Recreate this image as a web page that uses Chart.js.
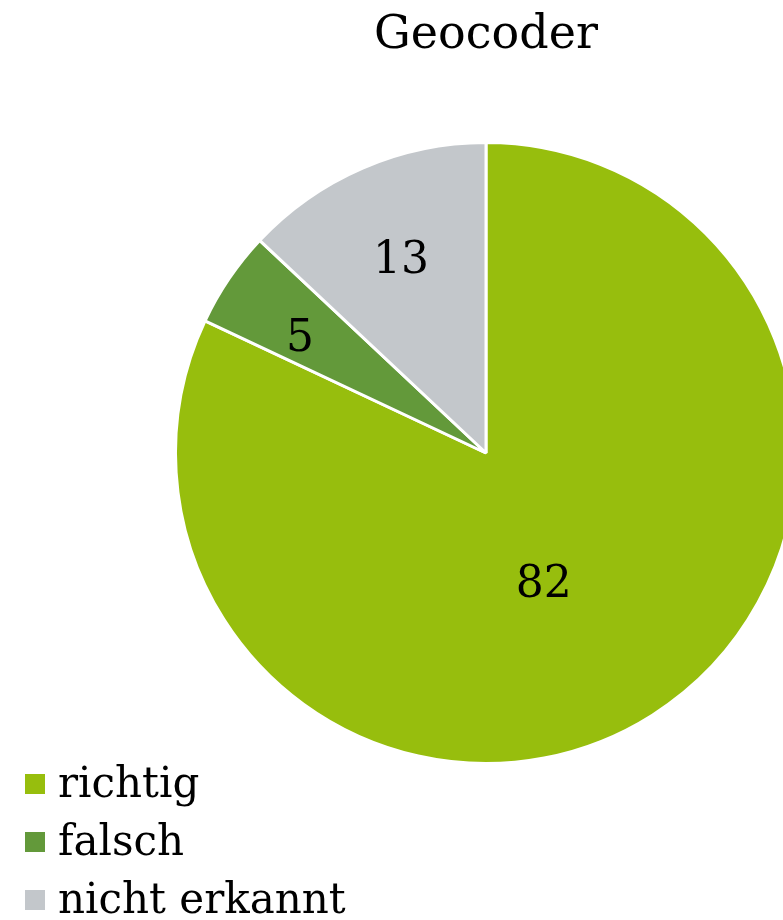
<!DOCTYPE html>
<html lang="de">
<head>
    <meta charset="UTF-8">
    <title>Geocoder</title>
    <style>
        html, body { margin: 0; padding: 0; background: #fff; overflow: hidden; }
        #wrap { width: 972px; height: 920px; }
    </style>
</head>
<body>
    <div id="wrap">
        <canvas id="mychart" width="972" height="920"></canvas>
    </div>
    <script src="https://cdn.jsdelivr.net/npm/chart.js"></script>
    <script>
        // data
        const categories = ['richtig', 'falsch', 'nicht erkannt'];
        const values = [82, 5, 13];
        const sliceColors = ['#97BE0D', '#63993A', '#C3C7CB'];
        const chartTitle = 'Geocoder';

        const serif = '"DejaVu Serif", "Liberation Serif", serif';

        // title, slice numbers and the legend are drawn by hand
        const decorations = {
            id: 'decorations',
            afterDatasetsDraw(chart) {
                const ctx = chart.ctx;
                const meta = chart.getDatasetMeta(0);
                ctx.save();
                ctx.fillStyle = '#000';

                // title
                ctx.font = '46px ' + serif;
                ctx.textAlign = 'center';
                ctx.textBaseline = 'middle';
                ctx.fillText(chartTitle, 486, 36);

                // values inside slices (excel-ish best fit)
                const labelRadius = [0.45, 0.71, 0.69];
                const angleShift = [0.14, -0.03, 0];
                ctx.font = '44px ' + serif;
                meta.data.forEach((arc, i) => {
                    const mid = (arc.startAngle + arc.endAngle) / 2 + angleShift[i];
                    const r = arc.outerRadius * labelRadius[i];
                    ctx.fillText(String(values[i]), arc.x + Math.cos(mid) * r, arc.y + Math.sin(mid) * r + 5);
                });

                // legend
                ctx.textAlign = 'left';
                ctx.font = '42px ' + serif;
                categories.forEach((c, i) => {
                    const y = 784 + i * 58;
                    ctx.fillStyle = sliceColors[i];
                    ctx.fillRect(25, y - 10, 20, 20);
                    ctx.fillStyle = '#000';
                    ctx.fillText(c, 58, y + 2);
                });
                ctx.restore();
            }
        };

        new Chart(document.getElementById('mychart').getContext('2d'), {
            type: 'pie',
            data: {
                labels: categories,
                datasets: [{
                    data: values,
                    backgroundColor: sliceColors,
                    borderColor: '#fff',
                    borderWidth: 3
                }]
            },
            options: {
                responsive: false,
                animation: false,
                layout: { padding: { top: 141, bottom: 155, left: 174, right: 174 } },
                plugins: {
                    legend: { display: false },
                    title: { display: false },
                    tooltip: { enabled: false }
                }
            },
            plugins: [decorations]
        });
    </script>
</body>
</html>
